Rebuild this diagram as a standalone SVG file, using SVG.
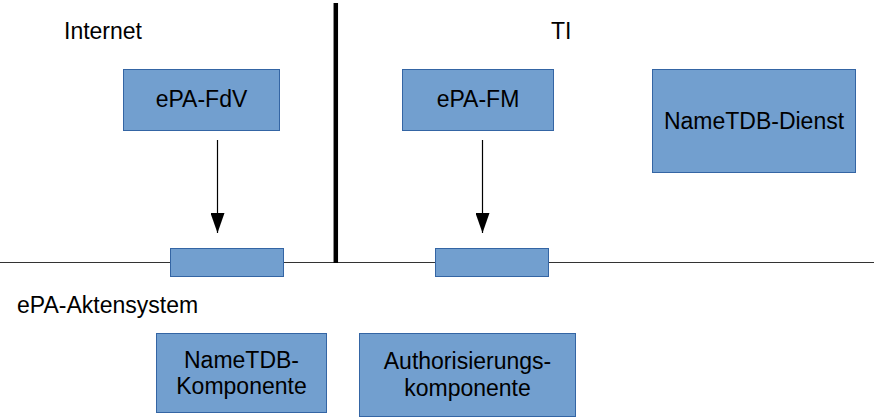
<svg xmlns="http://www.w3.org/2000/svg" width="874" height="418" viewBox="0 0 874 418">
<defs>
<style>
.box{fill:#729fcf;stroke:#3465a4;stroke-width:1}
.t{font-family:"Liberation Sans",Arial,sans-serif;font-size:23px;fill:#000}
.c{text-anchor:middle}
.ln{stroke:#333;stroke-width:1.2;fill:none}
</style>
<marker id="ah" markerWidth="20" markerHeight="14" refX="20" refY="7" orient="auto" markerUnits="userSpaceOnUse" viewBox="0 0 20 14">
<path d="M0,0 L20,7 L0,14 Z" fill="#000"/>
</marker>
</defs>
<rect width="874" height="418" fill="#fff"/>
<g id="lines">
<line class="ln" x1="0" y1="262.5" x2="874" y2="262.5"/>
<line x1="335.8" y1="3" x2="335.8" y2="263" stroke="#000" stroke-width="4.5"/>
</g>
<text class="t" x="64" y="39">Internet</text>
<text class="t" x="551" y="39">TI</text>
<text class="t" x="17" y="313">ePA-Aktensystem</text>
<g id="connectors">
<line x1="217.5" y1="140" x2="217.5" y2="233" stroke="#000" stroke-width="1.2" marker-end="url(#ah)"/>
<line x1="482.5" y1="140" x2="482.5" y2="233" stroke="#000" stroke-width="1.2" marker-end="url(#ah)"/>
</g>
<g id="epa-fdv">
<rect class="box" x="123.5" y="69.5" width="156" height="61"/>
<text class="t c" x="201.5" y="107">ePA-FdV</text>
</g>
<g id="epa-fm">
<rect class="box" x="402.5" y="69.5" width="151" height="61"/>
<text class="t c" x="478" y="107">ePA-FM</text>
</g>
<g id="nametdb-dienst">
<rect class="box" x="652.5" y="69.5" width="203" height="103"/>
<text class="t c" x="754" y="129">NameTDB-Dienst</text>
</g>
<g id="port-left">
<rect class="box" x="170.5" y="248.5" width="113" height="28"/>
</g>
<g id="port-right">
<rect class="box" x="435.5" y="248.5" width="113" height="28"/>
</g>
<g id="nametdb-komponente">
<rect class="box" x="156.5" y="333.5" width="170" height="79"/>
<text class="t c" x="241.5" y="368">NameTDB-</text>
<text class="t c" x="241.5" y="394">Komponente</text>
</g>
<g id="authorisierungskomponente">
<rect class="box" x="359.5" y="333.5" width="216" height="83"/>
<text class="t c" x="467.5" y="369">Authorisierungs-</text>
<text class="t c" x="467.5" y="396">komponente</text>
</g>
</svg>
